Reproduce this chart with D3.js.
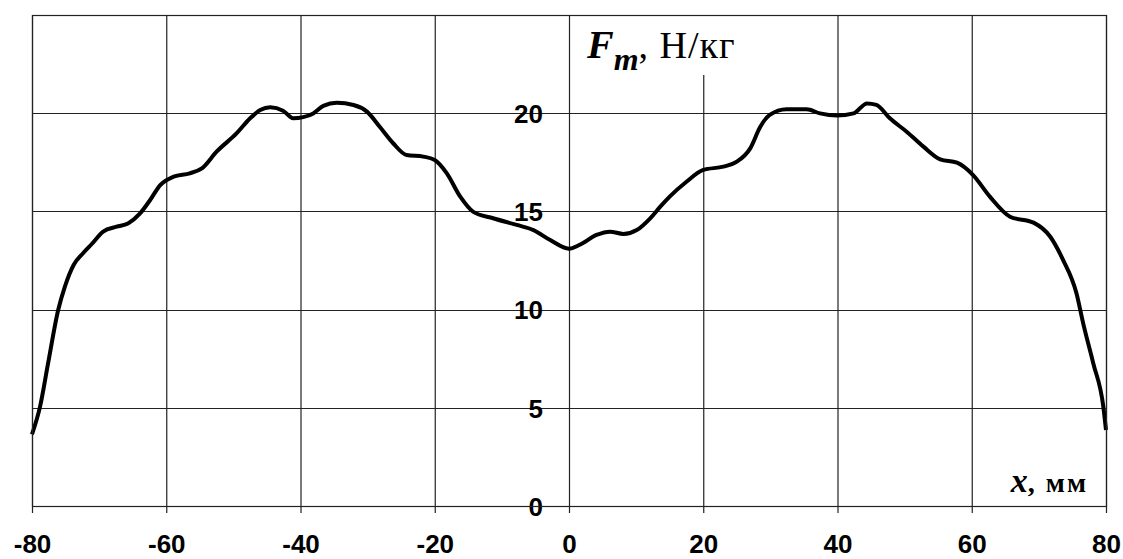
<!DOCTYPE html>
<html>
<head>
<meta charset="utf-8">
<script src="https://cdn.jsdelivr.net/npm/d3@7"></script>
<style>
    html, body { margin: 0; padding: 0; background: #fff; }
    svg { display: block; }
    .tick-label { font-family: "Liberation Sans", Arial, sans-serif; font-weight: bold; font-size: 26px; fill: #000; }
</style>
</head>
<body>
<svg id="chart"></svg>
<script>
// Coordinate along the magnet, mm
const xValues = [
    -80.0, -78.8, -77.6, -76.1, -75.1, -73.8, -72.4, -71.1, -69.4, -67.4,
    -65.7, -63.9, -62.4, -60.9, -58.9, -56.5, -54.7, -52.5, -49.5, -47.5,
    -46.0, -44.5, -42.6, -41.1, -39.6, -38.1, -36.6, -34.6, -32.1, -30.1,
    -28.2, -26.2, -24.2, -21.7, -20.0, -18.2, -16.2, -14.3, -11.3, -7.8,
    -5.3, -2.8, 0.0, 1.6, 4.1, 6.1, 8.1, 10.1, 12.1, 13.6,
    15.0, 17.5, 20.0, 23.0, 25.0, 27.0, 28.5, 29.9, 32.4, 35.4,
    37.4, 39.9, 42.4, 44.4, 45.8, 47.8, 50.3, 52.8, 55.3, 57.8,
    60.2, 62.7, 65.7, 69.2, 71.7, 73.6, 75.6, 76.6, 78.1, 79.6, 80.0
];

// Specific force Fm, N/kg
const fmValues = [
    3.65, 5.06, 7.27, 9.98, 11.17, 12.27, 12.87, 13.34, 13.97, 14.22,
    14.39, 14.90, 15.58, 16.34, 16.77, 16.94, 17.19, 18.04, 18.98, 19.74,
    20.16, 20.30, 20.13, 19.74, 19.80, 19.99, 20.37, 20.53, 20.42, 20.08,
    19.31, 18.47, 17.87, 17.79, 17.62, 16.94, 15.75, 14.99, 14.65, 14.31,
    14.05, 13.54, 13.10, 13.30, 13.80, 13.97, 13.85, 14.05, 14.65, 15.24,
    15.75, 16.51, 17.11, 17.28, 17.53, 18.21, 19.31, 19.91, 20.20, 20.20,
    19.99, 19.88, 19.99, 20.50, 20.42, 19.74, 19.06, 18.30, 17.65, 17.48,
    16.85, 15.75, 14.73, 14.43, 13.71, 12.53, 10.83, 9.30, 7.27, 5.06, 3.87
];

const xTicks = [-80, -60, -40, -20, 0, 20, 40, 60, 80];
const yTicks = [0, 5, 10, 15, 20];
const yGrid = [0, 5, 10, 15, 20, 25];

const width = 1123;
const height = 559;
const margin = { top: 15, right: 17, bottom: 53, left: 32 };
const plotW = width - margin.left - margin.right;
const plotH = height - margin.top - margin.bottom;

const svg = d3.select('#chart')
    .attr('width', width)
    .attr('height', height);

const g = svg.append('g')
    .attr('transform', `translate(${margin.left},${margin.top})`);

const x = d3.scaleLinear().domain([-80, 80]).range([0, plotW]);
const y = d3.scaleLinear().domain([0, 25]).range([plotH, 0]);

// Horizontal grid lines
g.append('g')
    .selectAll('line')
    .data(yGrid)
    .enter().append('line')
    .attr('x1', 0)
    .attr('x2', plotW)
    .attr('y1', d => Math.round(y(d)) + 0.5)
    .attr('y2', d => Math.round(y(d)) + 0.5)
    .attr('stroke', '#222')
    .attr('stroke-width', 1.2);

// Vertical grid lines + x tick labels (ticks stick out below the frame)
const tickOut = 7;
const xAxis = g.append('g')
    .attr('transform', `translate(0,${plotH + tickOut})`)
    .call(d3.axisBottom(x)
        .tickValues(xTicks)
        .tickSize(-(plotH + tickOut))
        .tickPadding(22)
        .tickFormat(d3.format('d')));

xAxis.select('.domain').remove();
xAxis.selectAll('.tick line')
    .attr('stroke', '#222')
    .attr('stroke-width', 1.2);
xAxis.selectAll('.tick text')
    .attr('class', 'tick-label')
    .text(d => String(d).replace('−', '-'));

// Y tick labels sit left of the x = 0 line
const yAxis = g.append('g')
    .attr('transform', `translate(${x(0)},0)`)
    .call(d3.axisLeft(y)
        .tickValues(yTicks)
        .tickSize(0)
        .tickPadding(26));

yAxis.select('.domain').remove();
yAxis.selectAll('.tick text')
    .attr('class', 'tick-label')
    .attr('dy', '0.36em');

// Curve
const line = d3.line()
    .x((d, i) => x(xValues[i]))
    .y(d => y(d))
    .curve(d3.curveMonotoneX);

g.append('path')
    .datum(fmValues)
    .attr('fill', 'none')
    .attr('stroke', '#000')
    .attr('stroke-width', 4)
    .attr('stroke-linejoin', 'round')
    .attr('d', line);

// Y axis title: Fm, Н/кг (with a white box over the grid)
const titleBg = g.append('rect').attr('fill', '#fff');
const title = g.append('text')
    .attr('x', 555)
    .attr('y', 43)
    .style('font-family', '"Liberation Serif", "Times New Roman", serif')
    .style('font-size', '38px')
    .attr('fill', '#000');
title.append('tspan')
    .style('font-style', 'italic')
    .style('font-weight', 'bold')
    .style('font-size', '40px')
    .text('F');
title.append('tspan')
    .attr('dy', 12)
    .style('font-style', 'italic')
    .style('font-weight', 'bold')
    .style('font-size', '32px')
    .text('m');
title.append('tspan')
    .attr('dy', -12)
    .style('letter-spacing', '1px')
    .text(', Н/кг');

const tb = title.node().getBBox();
titleBg
    .attr('x', tb.x - 4)
    .attr('y', 1)
    .attr('width', tb.width + 10)
    .attr('height', 59);

// X axis title: x, мм
const xTitle = g.append('text')
    .attr('x', plotW - 18)
    .attr('y', plotH - 14)
    .attr('text-anchor', 'end')
    .style('font-family', '"Liberation Serif", "Times New Roman", serif')
    .style('font-weight', 'bold')
    .attr('fill', '#000');
xTitle.append('tspan')
    .style('font-style', 'italic')
    .style('font-size', '34px')
    .text('x');
xTitle.append('tspan')
    .style('font-size', '28px')
    .style('letter-spacing', '2px')
    .text(',  мм');

// Frame
g.append('rect')
    .attr('x', 0.5)
    .attr('y', 0.5)
    .attr('width', Math.round(plotW))
    .attr('height', Math.round(plotH))
    .attr('fill', 'none')
    .attr('stroke', '#222')
    .attr('stroke-width', 1.2);
</script>
</body>
</html>
